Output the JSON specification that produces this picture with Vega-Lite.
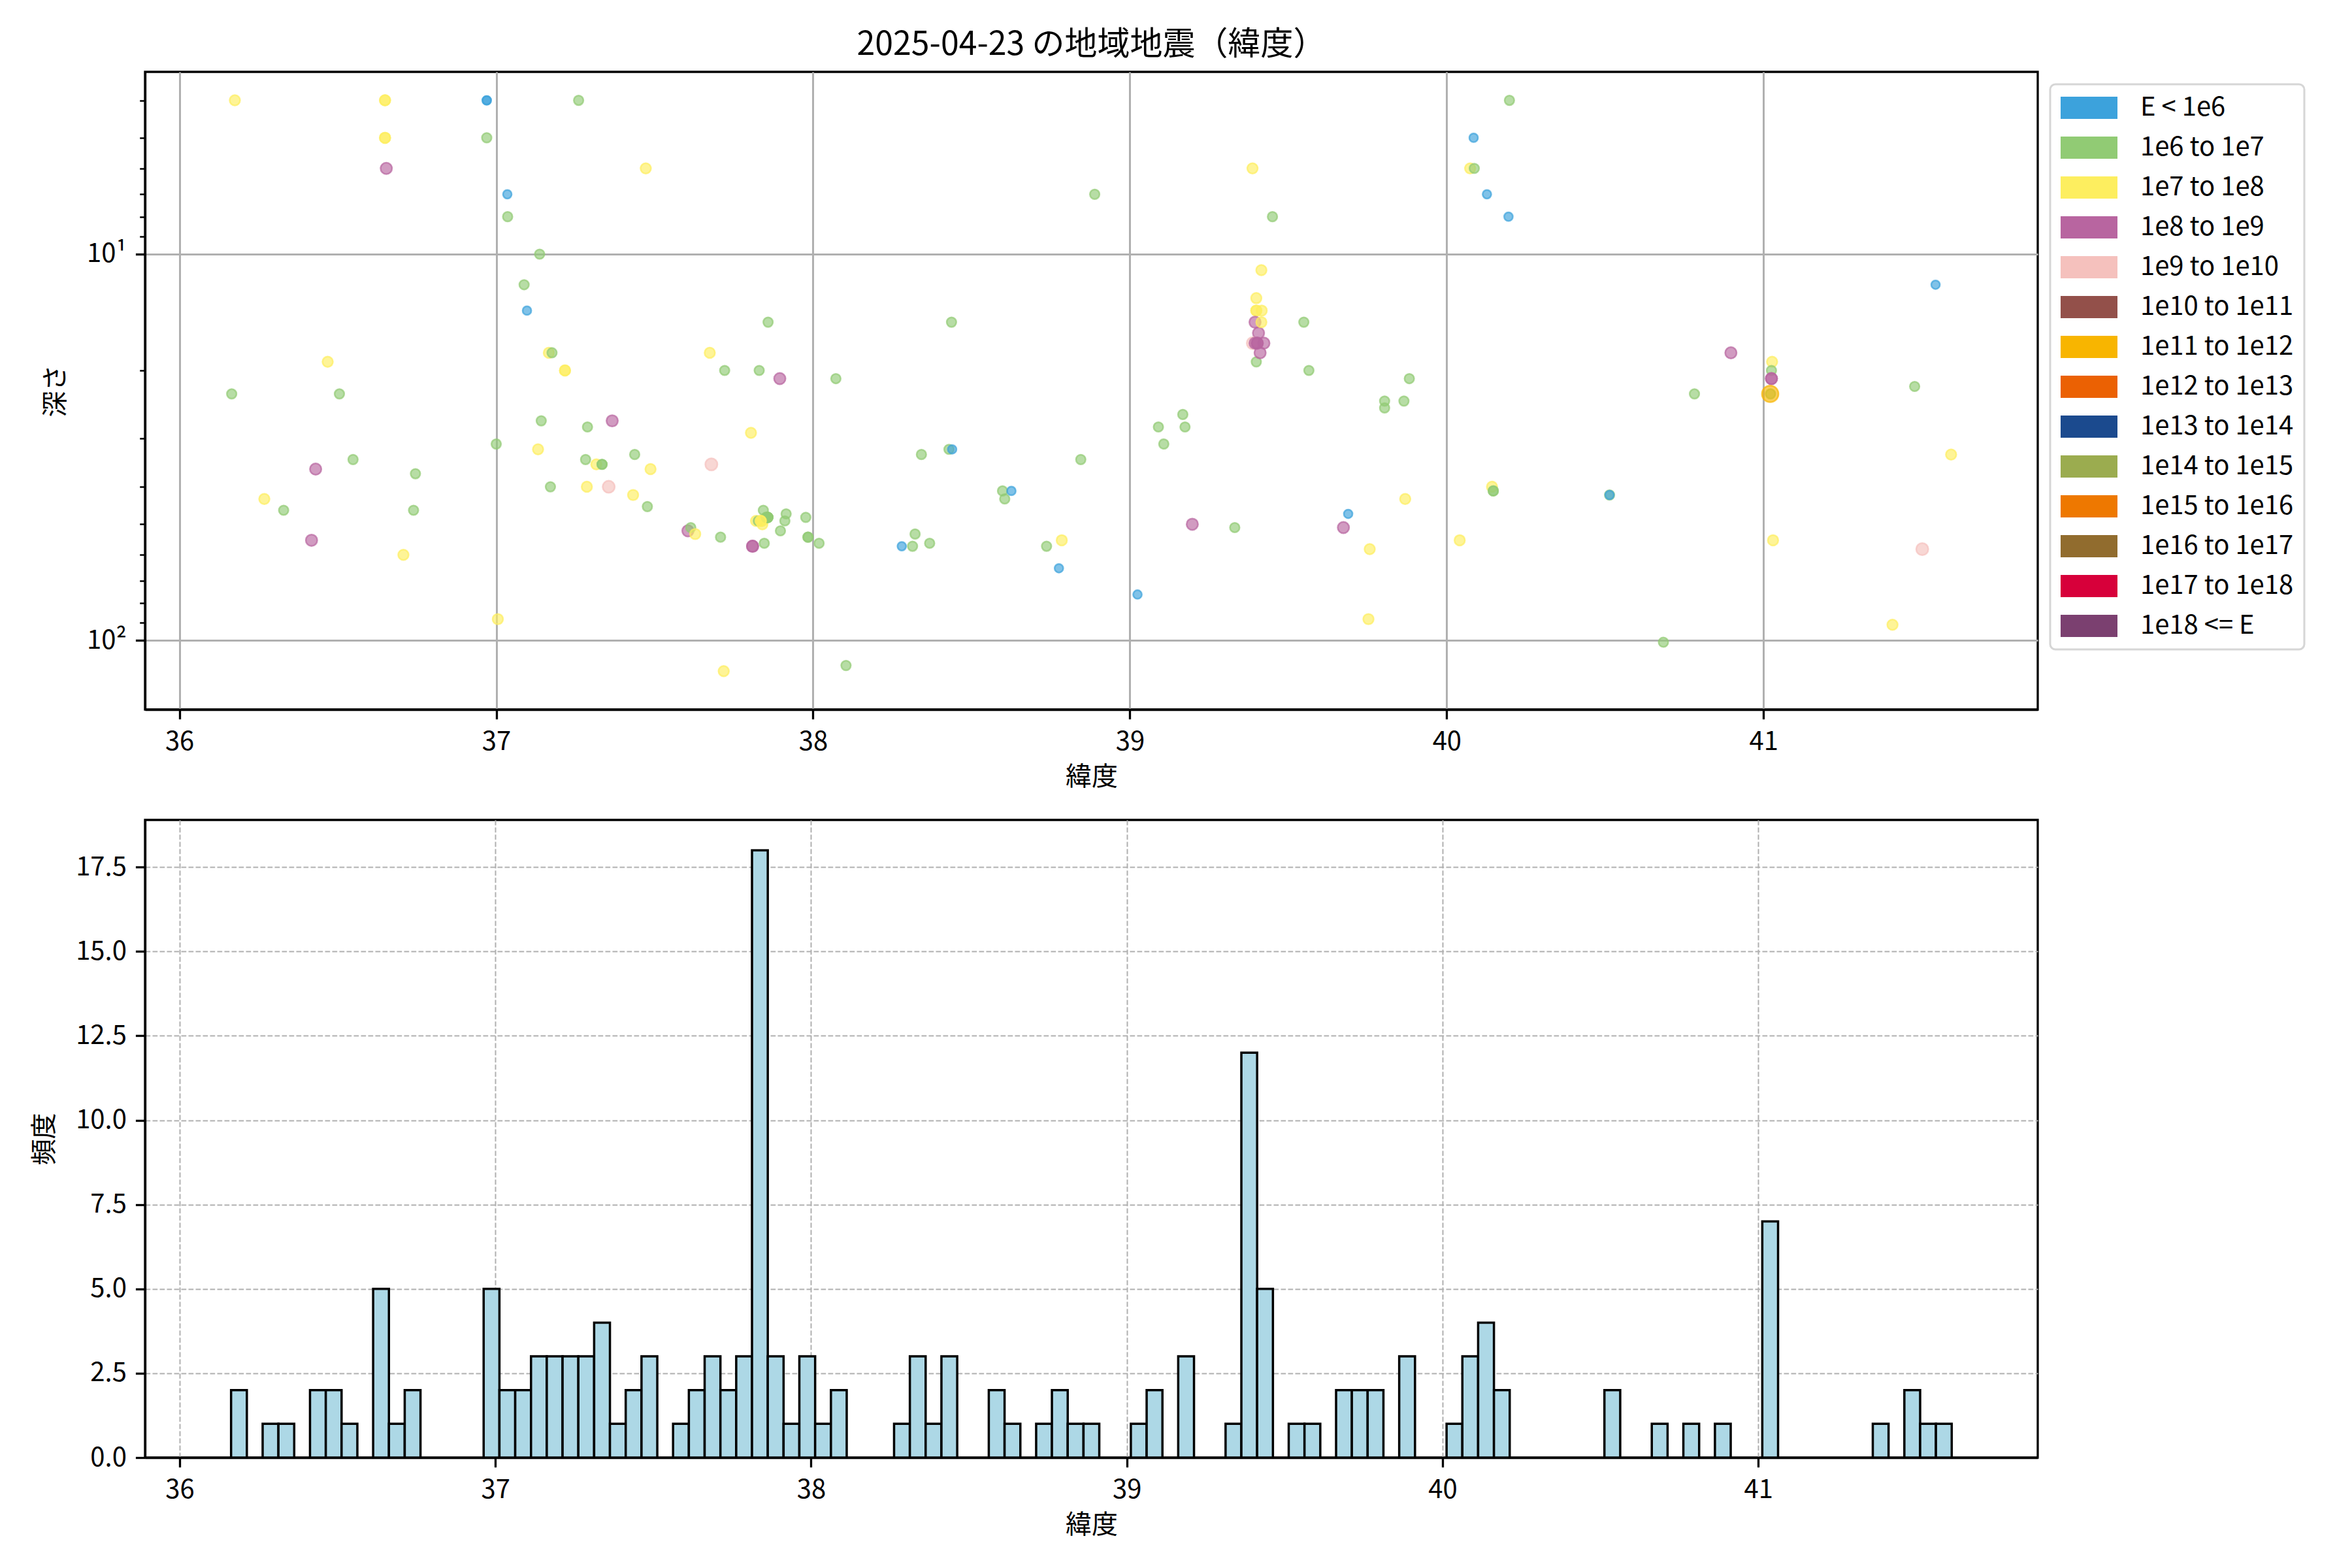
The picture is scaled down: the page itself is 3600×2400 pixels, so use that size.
{
  "$schema": "https://vega.github.io/schema/vega-lite/v6.json",
  "background": "white",
  "padding": {"left": 47, "top": 42, "right": 5, "bottom": 5},
  "spacing": 41,
  "config": {
    "font": "Noto Sans CJK JP",
    "view": {"stroke": "black", "strokeWidth": 3.3},
    "axis": {
      "domainColor": "black", "domainWidth": 3.3,
      "tickColor": "black", "tickWidth": 3.3, "tickSize": 14.6,
      "labelFontSize": 40, "labelColor": "black", "labelPadding": 14,
      "titleFontSize": 40, "titleFontWeight": "normal", "titleColor": "black",
      "gridColor": "#b0b0b0", "gridWidth": 3
    },
    "axisX": {"titlePadding": 14, "labelPadding": 15},
    "axisY": {"titlePadding": 27},
    "title": {"fontSize": 50, "fontWeight": "normal", "color": "black"},
    "legend": {"strokeWidth": 3}
  },
  "datasets": {
    "quakes": [
      {"lat": 36.175, "depth": 4, "E": "1e7 to 1e8"},
      {"lat": 36.165, "depth": 23, "E": "1e6 to 1e7"},
      {"lat": 36.268, "depth": 43, "E": "1e7 to 1e8"},
      {"lat": 36.329, "depth": 46, "E": "1e6 to 1e7"},
      {"lat": 36.430, "depth": 36, "E": "1e8 to 1e9"},
      {"lat": 36.417, "depth": 55, "E": "1e8 to 1e9"},
      {"lat": 36.468, "depth": 19, "E": "1e7 to 1e8"},
      {"lat": 36.505, "depth": 23, "E": "1e6 to 1e7"},
      {"lat": 36.548, "depth": 34, "E": "1e6 to 1e7"},
      {"lat": 36.649, "depth": 4, "E": "1e7 to 1e8"},
      {"lat": 36.649, "depth": 4, "E": "1e7 to 1e8"},
      {"lat": 36.649, "depth": 5, "E": "1e7 to 1e8"},
      {"lat": 36.649, "depth": 5, "E": "1e7 to 1e8"},
      {"lat": 36.653, "depth": 6, "E": "1e8 to 1e9"},
      {"lat": 36.707, "depth": 60, "E": "1e7 to 1e8"},
      {"lat": 36.745, "depth": 37, "E": "1e6 to 1e7"},
      {"lat": 36.739, "depth": 46, "E": "1e6 to 1e7"},
      {"lat": 36.970, "depth": 4, "E": "E < 1e6"},
      {"lat": 36.970, "depth": 4, "E": "E < 1e6"},
      {"lat": 36.970, "depth": 5, "E": "1e6 to 1e7"},
      {"lat": 37.000, "depth": 31, "E": "1e6 to 1e7"},
      {"lat": 37.005, "depth": 88, "E": "1e7 to 1e8"},
      {"lat": 37.035, "depth": 7, "E": "E < 1e6"},
      {"lat": 37.036, "depth": 8, "E": "1e6 to 1e7"},
      {"lat": 37.088, "depth": 12, "E": "1e6 to 1e7"},
      {"lat": 37.097, "depth": 14, "E": "E < 1e6"},
      {"lat": 37.137, "depth": 10, "E": "1e6 to 1e7"},
      {"lat": 37.142, "depth": 27, "E": "1e6 to 1e7"},
      {"lat": 37.132, "depth": 32, "E": "1e7 to 1e8"},
      {"lat": 37.166, "depth": 18, "E": "1e7 to 1e8"},
      {"lat": 37.176, "depth": 18, "E": "1e6 to 1e7"},
      {"lat": 37.171, "depth": 40, "E": "1e6 to 1e7"},
      {"lat": 37.217, "depth": 20, "E": "1e7 to 1e8"},
      {"lat": 37.217, "depth": 20, "E": "1e7 to 1e8"},
      {"lat": 37.260, "depth": 4, "E": "1e6 to 1e7"},
      {"lat": 37.288, "depth": 28, "E": "1e6 to 1e7"},
      {"lat": 37.282, "depth": 34, "E": "1e6 to 1e7"},
      {"lat": 37.286, "depth": 40, "E": "1e7 to 1e8"},
      {"lat": 37.316, "depth": 35, "E": "1e7 to 1e8"},
      {"lat": 37.334, "depth": 35, "E": "1e6 to 1e7"},
      {"lat": 37.334, "depth": 35, "E": "1e6 to 1e7"},
      {"lat": 37.355, "depth": 40, "E": "1e9 to 1e10"},
      {"lat": 37.366, "depth": 27, "E": "1e8 to 1e9"},
      {"lat": 37.437, "depth": 33, "E": "1e6 to 1e7"},
      {"lat": 37.432, "depth": 42, "E": "1e7 to 1e8"},
      {"lat": 37.472, "depth": 6, "E": "1e7 to 1e8"},
      {"lat": 37.487, "depth": 36, "E": "1e7 to 1e8"},
      {"lat": 37.477, "depth": 45, "E": "1e6 to 1e7"},
      {"lat": 37.605, "depth": 52, "E": "1e8 to 1e9"},
      {"lat": 37.614, "depth": 51, "E": "1e6 to 1e7"},
      {"lat": 37.628, "depth": 53, "E": "1e7 to 1e8"},
      {"lat": 37.674, "depth": 18, "E": "1e7 to 1e8"},
      {"lat": 37.679, "depth": 35, "E": "1e9 to 1e10"},
      {"lat": 37.708, "depth": 54, "E": "1e6 to 1e7"},
      {"lat": 37.721, "depth": 20, "E": "1e6 to 1e7"},
      {"lat": 37.718, "depth": 120, "E": "1e7 to 1e8"},
      {"lat": 37.804, "depth": 29, "E": "1e7 to 1e8"},
      {"lat": 37.809, "depth": 57, "E": "1e8 to 1e9"},
      {"lat": 37.809, "depth": 57, "E": "1e8 to 1e9"},
      {"lat": 37.843, "depth": 46, "E": "1e6 to 1e7"},
      {"lat": 37.820, "depth": 49, "E": "1e7 to 1e8"},
      {"lat": 37.827, "depth": 49, "E": "1e6 to 1e7"},
      {"lat": 37.840, "depth": 49, "E": "1e7 to 1e8"},
      {"lat": 37.840, "depth": 50, "E": "1e7 to 1e8"},
      {"lat": 37.857, "depth": 48, "E": "1e6 to 1e7"},
      {"lat": 37.857, "depth": 48, "E": "1e6 to 1e7"},
      {"lat": 37.857, "depth": 48, "E": "1e6 to 1e7"},
      {"lat": 37.857, "depth": 48, "E": "1e6 to 1e7"},
      {"lat": 37.857, "depth": 48, "E": "1e6 to 1e7"},
      {"lat": 37.857, "depth": 48, "E": "1e6 to 1e7"},
      {"lat": 37.846, "depth": 56, "E": "1e6 to 1e7"},
      {"lat": 37.858, "depth": 15, "E": "1e6 to 1e7"},
      {"lat": 37.830, "depth": 20, "E": "1e6 to 1e7"},
      {"lat": 37.852, "depth": 48, "E": "1e6 to 1e7"},
      {"lat": 37.852, "depth": 48, "E": "1e6 to 1e7"},
      {"lat": 37.835, "depth": 49, "E": "1e7 to 1e8"},
      {"lat": 37.835, "depth": 49, "E": "1e7 to 1e8"},
      {"lat": 37.895, "depth": 21, "E": "1e8 to 1e9"},
      {"lat": 37.897, "depth": 52, "E": "1e6 to 1e7"},
      {"lat": 37.911, "depth": 49, "E": "1e6 to 1e7"},
      {"lat": 37.915, "depth": 47, "E": "1e6 to 1e7"},
      {"lat": 37.977, "depth": 48, "E": "1e6 to 1e7"},
      {"lat": 37.984, "depth": 54, "E": "1e6 to 1e7"},
      {"lat": 37.984, "depth": 54, "E": "1e6 to 1e7"},
      {"lat": 38.019, "depth": 56, "E": "1e6 to 1e7"},
      {"lat": 38.072, "depth": 21, "E": "1e6 to 1e7"},
      {"lat": 38.104, "depth": 116, "E": "1e6 to 1e7"},
      {"lat": 38.280, "depth": 57, "E": "E < 1e6"},
      {"lat": 38.314, "depth": 57, "E": "1e6 to 1e7"},
      {"lat": 38.322, "depth": 53, "E": "1e6 to 1e7"},
      {"lat": 38.342, "depth": 33, "E": "1e6 to 1e7"},
      {"lat": 38.368, "depth": 56, "E": "1e6 to 1e7"},
      {"lat": 38.429, "depth": 32, "E": "1e6 to 1e7"},
      {"lat": 38.439, "depth": 32, "E": "E < 1e6"},
      {"lat": 38.437, "depth": 15, "E": "1e6 to 1e7"},
      {"lat": 38.598, "depth": 41, "E": "1e6 to 1e7"},
      {"lat": 38.605, "depth": 43, "E": "1e6 to 1e7"},
      {"lat": 38.626, "depth": 41, "E": "E < 1e6"},
      {"lat": 38.737, "depth": 57, "E": "1e6 to 1e7"},
      {"lat": 38.785, "depth": 55, "E": "1e7 to 1e8"},
      {"lat": 38.776, "depth": 65, "E": "E < 1e6"},
      {"lat": 38.845, "depth": 34, "E": "1e6 to 1e7"},
      {"lat": 38.889, "depth": 7, "E": "1e6 to 1e7"},
      {"lat": 39.024, "depth": 76, "E": "E < 1e6"},
      {"lat": 39.090, "depth": 28, "E": "1e6 to 1e7"},
      {"lat": 39.107, "depth": 31, "E": "1e6 to 1e7"},
      {"lat": 39.167, "depth": 26, "E": "1e6 to 1e7"},
      {"lat": 39.174, "depth": 28, "E": "1e6 to 1e7"},
      {"lat": 39.197, "depth": 50, "E": "1e8 to 1e9"},
      {"lat": 39.331, "depth": 51, "E": "1e6 to 1e7"},
      {"lat": 39.387, "depth": 6, "E": "1e7 to 1e8"},
      {"lat": 39.399, "depth": 13, "E": "1e7 to 1e8"},
      {"lat": 39.399, "depth": 14, "E": "1e7 to 1e8"},
      {"lat": 39.399, "depth": 14, "E": "1e7 to 1e8"},
      {"lat": 39.395, "depth": 15, "E": "1e8 to 1e9"},
      {"lat": 39.406, "depth": 16, "E": "1e8 to 1e9"},
      {"lat": 39.388, "depth": 17, "E": "1e9 to 1e10"},
      {"lat": 39.395, "depth": 17, "E": "1e8 to 1e9"},
      {"lat": 39.402, "depth": 17, "E": "1e8 to 1e9"},
      {"lat": 39.402, "depth": 17, "E": "1e8 to 1e9"},
      {"lat": 39.399, "depth": 19, "E": "1e6 to 1e7"},
      {"lat": 39.411, "depth": 18, "E": "1e8 to 1e9"},
      {"lat": 39.415, "depth": 11, "E": "1e7 to 1e8"},
      {"lat": 39.416, "depth": 14, "E": "1e7 to 1e8"},
      {"lat": 39.415, "depth": 15, "E": "1e7 to 1e8"},
      {"lat": 39.423, "depth": 17, "E": "1e8 to 1e9"},
      {"lat": 39.450, "depth": 8, "E": "1e6 to 1e7"},
      {"lat": 39.549, "depth": 15, "E": "1e6 to 1e7"},
      {"lat": 39.565, "depth": 20, "E": "1e6 to 1e7"},
      {"lat": 39.674, "depth": 51, "E": "1e8 to 1e9"},
      {"lat": 39.689, "depth": 47, "E": "E < 1e6"},
      {"lat": 39.757, "depth": 58, "E": "1e7 to 1e8"},
      {"lat": 39.753, "depth": 88, "E": "1e7 to 1e8"},
      {"lat": 39.804, "depth": 24, "E": "1e6 to 1e7"},
      {"lat": 39.804, "depth": 25, "E": "1e6 to 1e7"},
      {"lat": 39.882, "depth": 21, "E": "1e6 to 1e7"},
      {"lat": 39.865, "depth": 24, "E": "1e6 to 1e7"},
      {"lat": 39.869, "depth": 43, "E": "1e7 to 1e8"},
      {"lat": 40.041, "depth": 55, "E": "1e7 to 1e8"},
      {"lat": 40.085, "depth": 5, "E": "E < 1e6"},
      {"lat": 40.074, "depth": 6, "E": "1e7 to 1e8"},
      {"lat": 40.087, "depth": 6, "E": "1e6 to 1e7"},
      {"lat": 40.127, "depth": 7, "E": "E < 1e6"},
      {"lat": 40.143, "depth": 40, "E": "1e7 to 1e8"},
      {"lat": 40.147, "depth": 41, "E": "1e6 to 1e7"},
      {"lat": 40.147, "depth": 41, "E": "1e6 to 1e7"},
      {"lat": 40.198, "depth": 4, "E": "1e6 to 1e7"},
      {"lat": 40.195, "depth": 8, "E": "E < 1e6"},
      {"lat": 40.514, "depth": 42, "E": "1e6 to 1e7"},
      {"lat": 40.514, "depth": 42, "E": "E < 1e6"},
      {"lat": 40.684, "depth": 101, "E": "1e6 to 1e7"},
      {"lat": 40.782, "depth": 23, "E": "1e6 to 1e7"},
      {"lat": 40.897, "depth": 18, "E": "1e8 to 1e9"},
      {"lat": 41.027, "depth": 19, "E": "1e7 to 1e8"},
      {"lat": 41.025, "depth": 20, "E": "1e6 to 1e7"},
      {"lat": 41.025, "depth": 21, "E": "1e8 to 1e9"},
      {"lat": 41.025, "depth": 21, "E": "1e8 to 1e9"},
      {"lat": 41.022, "depth": 23, "E": "1e6 to 1e7"},
      {"lat": 41.021, "depth": 23, "E": "1e11 to 1e12"},
      {"lat": 41.030, "depth": 55, "E": "1e7 to 1e8"},
      {"lat": 41.407, "depth": 91, "E": "1e7 to 1e8"},
      {"lat": 41.477, "depth": 22, "E": "1e6 to 1e7"},
      {"lat": 41.501, "depth": 58, "E": "1e9 to 1e10"},
      {"lat": 41.543, "depth": 12, "E": "E < 1e6"},
      {"lat": 41.592, "depth": 33, "E": "1e7 to 1e8"}
    ],
    "hist": [
      {"start": 36.1628, "end": 36.2128, "count": 2},
      {"start": 36.2628, "end": 36.3128, "count": 1},
      {"start": 36.3128, "end": 36.3628, "count": 1},
      {"start": 36.4128, "end": 36.4628, "count": 2},
      {"start": 36.4628, "end": 36.5128, "count": 2},
      {"start": 36.5128, "end": 36.5628, "count": 1},
      {"start": 36.6128, "end": 36.6628, "count": 5},
      {"start": 36.6628, "end": 36.7128, "count": 1},
      {"start": 36.7128, "end": 36.7628, "count": 2},
      {"start": 36.9628, "end": 37.0128, "count": 5},
      {"start": 37.0128, "end": 37.0628, "count": 2},
      {"start": 37.0628, "end": 37.1128, "count": 2},
      {"start": 37.1128, "end": 37.1628, "count": 3},
      {"start": 37.1628, "end": 37.2128, "count": 3},
      {"start": 37.2128, "end": 37.2628, "count": 3},
      {"start": 37.2628, "end": 37.3128, "count": 3},
      {"start": 37.3128, "end": 37.3628, "count": 4},
      {"start": 37.3628, "end": 37.4128, "count": 1},
      {"start": 37.4128, "end": 37.4628, "count": 2},
      {"start": 37.4628, "end": 37.5128, "count": 3},
      {"start": 37.5628, "end": 37.6128, "count": 1},
      {"start": 37.6128, "end": 37.6628, "count": 2},
      {"start": 37.6628, "end": 37.7128, "count": 3},
      {"start": 37.7128, "end": 37.7628, "count": 2},
      {"start": 37.7628, "end": 37.8128, "count": 3},
      {"start": 37.8128, "end": 37.8628, "count": 18},
      {"start": 37.8628, "end": 37.9128, "count": 3},
      {"start": 37.9128, "end": 37.9628, "count": 1},
      {"start": 37.9628, "end": 38.0128, "count": 3},
      {"start": 38.0128, "end": 38.0628, "count": 1},
      {"start": 38.0628, "end": 38.1128, "count": 2},
      {"start": 38.2628, "end": 38.3128, "count": 1},
      {"start": 38.3128, "end": 38.3628, "count": 3},
      {"start": 38.3628, "end": 38.4128, "count": 1},
      {"start": 38.4128, "end": 38.4628, "count": 3},
      {"start": 38.5628, "end": 38.6128, "count": 2},
      {"start": 38.6128, "end": 38.6628, "count": 1},
      {"start": 38.7128, "end": 38.7628, "count": 1},
      {"start": 38.7628, "end": 38.8128, "count": 2},
      {"start": 38.8128, "end": 38.8628, "count": 1},
      {"start": 38.8628, "end": 38.9128, "count": 1},
      {"start": 39.0128, "end": 39.0628, "count": 1},
      {"start": 39.0628, "end": 39.1128, "count": 2},
      {"start": 39.1628, "end": 39.2128, "count": 3},
      {"start": 39.3128, "end": 39.3628, "count": 1},
      {"start": 39.3628, "end": 39.4128, "count": 12},
      {"start": 39.4128, "end": 39.4628, "count": 5},
      {"start": 39.5128, "end": 39.5628, "count": 1},
      {"start": 39.5628, "end": 39.6128, "count": 1},
      {"start": 39.6628, "end": 39.7128, "count": 2},
      {"start": 39.7128, "end": 39.7628, "count": 2},
      {"start": 39.7628, "end": 39.8128, "count": 2},
      {"start": 39.8628, "end": 39.9128, "count": 3},
      {"start": 40.0128, "end": 40.0628, "count": 1},
      {"start": 40.0628, "end": 40.1128, "count": 3},
      {"start": 40.1128, "end": 40.1628, "count": 4},
      {"start": 40.1628, "end": 40.2128, "count": 2},
      {"start": 40.5128, "end": 40.5628, "count": 2},
      {"start": 40.6628, "end": 40.7128, "count": 1},
      {"start": 40.7628, "end": 40.8128, "count": 1},
      {"start": 40.8628, "end": 40.9128, "count": 1},
      {"start": 41.0128, "end": 41.0628, "count": 7},
      {"start": 41.3628, "end": 41.4128, "count": 1},
      {"start": 41.4628, "end": 41.5128, "count": 2},
      {"start": 41.5128, "end": 41.5628, "count": 1},
      {"start": 41.5628, "end": 41.6128, "count": 1}
    ]
  },
  "vconcat": [
    {
      "title": {"text": "2025-04-23 の地域地震（緯度）", "anchor": "middle", "frame": "group", "offset": 16, "fontSize": 50},
      "width": 2897,
      "height": 976,
      "data": {"name": "quakes"},
      "mark": {"type": "circle", "opacity": 1, "fillOpacity": 0.65, "strokeOpacity": 0.7, "strokeWidth": 2.5},
      "encoding": {
        "x": {
          "field": "lat", "type": "quantitative",
          "scale": {"domain": [35.8915, 41.8655], "nice": false, "zero": false},
          "axis": {"values": [36, 37, 38, 39, 40, 41], "format": "d", "title": "緯度", "grid": true}
        },
        "y": {
          "field": "depth", "type": "quantitative",
          "scale": {"type": "log", "domain": [3.376, 150.8], "nice": false, "reverse": true},
          "axis": {
            "values": [4, 5, 6, 7, 8, 9, 10, 20, 30, 40, 50, 60, 70, 80, 90, 100],
            "labelExpr": "datum.value == 10 ? '10¹' : (datum.value == 100 ? '10²' : '')",
            "title": "深さ",
            "grid": true,
            "tickSize": {"condition": {"test": "datum.value == 10 || datum.value == 100", "value": 14.6}, "value": 8.3},
            "tickWidth": {"condition": {"test": "datum.value == 10 || datum.value == 100", "value": 3.3}, "value": 2.5},
            "gridOpacity": {"condition": {"test": "datum.value == 10 || datum.value == 100", "value": 1}, "value": 0}
          }
        },
        "color": {
          "field": "E", "type": "nominal",
          "scale": {
            "domain": ["E < 1e6", "1e6 to 1e7", "1e7 to 1e8", "1e8 to 1e9", "1e9 to 1e10", "1e10 to 1e11", "1e11 to 1e12", "1e12 to 1e13", "1e13 to 1e14", "1e14 to 1e15", "1e15 to 1e16", "1e16 to 1e17", "1e17 to 1e18", "1e18 <= E"],
            "range": ["#3ca2dc", "#91cb74", "#fdee5f", "#b865a0", "#f5c1bd", "#93504a", "#f8b500", "#eb6103", "#1b4a8e", "#9bac4f", "#ee7800", "#916c2e", "#d7003a", "#7b4070"]
          },
          "legend": {
            "title": null,
            "orient": "none",
            "legendX": 2916,
            "legendY": 19,
            "padding": 16,
            "strokeColor": "#d6d6d6",
            "fillColor": "white",
            "cornerRadius": 8,
            "symbolType": "M-1,-0.39H1V0.39H-1Z",
            "symbolSize": 7569,
            "symbolOpacity": 1,
            "symbolStrokeWidth": 0,
            "labelFontSize": 40,
            "labelColor": "black",
            "labelOffset": 35,
            "clipHeight": 40,
            "rowPadding": 21,
            "labelLimit": 400
          }
        },
        "stroke": {
          "field": "E", "type": "nominal",
          "scale": {
            "domain": ["E < 1e6", "1e6 to 1e7", "1e7 to 1e8", "1e8 to 1e9", "1e9 to 1e10", "1e10 to 1e11", "1e11 to 1e12", "1e12 to 1e13", "1e13 to 1e14", "1e14 to 1e15", "1e15 to 1e16", "1e16 to 1e17", "1e17 to 1e18", "1e18 <= E"],
            "range": ["#3ca2dc", "#91cb74", "#fdee5f", "#b865a0", "#f5c1bd", "#93504a", "#f8b500", "#eb6103", "#1b4a8e", "#9bac4f", "#ee7800", "#916c2e", "#d7003a", "#7b4070"]
          },
          "legend": null
        },
        "size": {
          "condition": [
            {"test": "datum.E === 'E < 1e6'", "value": 175},
            {"test": "datum.E === '1e6 to 1e7'", "value": 215},
            {"test": "datum.E === '1e7 to 1e8'", "value": 255},
            {"test": "datum.E === '1e8 to 1e9'", "value": 305},
            {"test": "datum.E === '1e9 to 1e10'", "value": 345},
            {"test": "datum.E === '1e11 to 1e12'", "value": 640}
          ],
          "value": 440
        }
      }
    },
    {
      "width": 2897,
      "height": 976,
      "data": {"name": "hist"},
      "mark": {"type": "bar", "fill": "#add8e6", "stroke": "black", "strokeWidth": 3.5},
      "encoding": {
        "x": {
          "field": "start", "type": "quantitative",
          "scale": {"domain": [35.8903, 41.8853], "nice": false, "zero": false},
          "axis": {"values": [36, 37, 38, 39, 40, 41], "format": "d", "title": "緯度", "grid": true, "gridDash": [7.7, 3.3], "gridWidth": 2}
        },
        "x2": {"field": "end"},
        "y": {
          "field": "count", "type": "quantitative",
          "scale": {"domain": [0, 18.9], "nice": false},
          "axis": {"values": [0, 2.5, 5, 7.5, 10, 12.5, 15, 17.5], "format": ".1f", "title": "頻度", "grid": true, "gridDash": [7.7, 3.3], "gridWidth": 2}
        },
        "y2": {"datum": 0}
      }
    }
  ]
}
